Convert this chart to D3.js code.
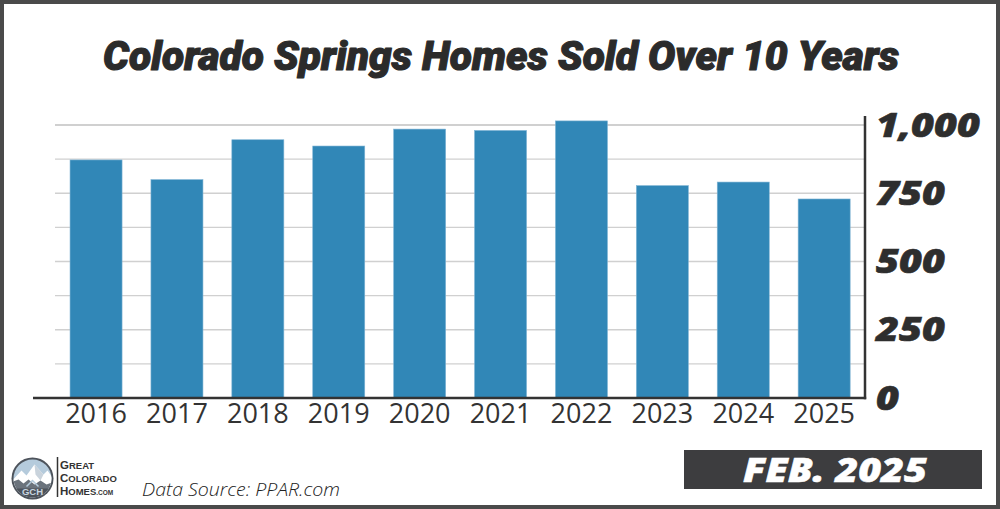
<!DOCTYPE html>
<html>
<head>
<meta charset="utf-8">
<script src="https://cdn.jsdelivr.net/npm/d3@7"></script>
<style>
  html, body { margin: 0; padding: 0; background: #fff; }
  svg { display: block; }
</style>
</head>
<body>
<svg id="chart" width="1000" height="509"></svg>
<script>
const years = ["2016","2017","2018","2019","2020","2021","2022","2023","2024","2025"];
const homesSold = [872, 800, 946, 923, 985, 980, 1015, 778, 791, 729];
const gridValues = [0, 125, 250, 375, 500, 625, 750, 875, 1000];
const tickValues = [0, 250, 500, 750, 1000];
const titleText = "Colorado Springs Homes Sold Over 10 Years";
const sourceText = "Data Source: PPAR.com";
const dateText = "FEB. 2025";

const svg = d3.select("#chart");
const W = 1000, H = 509;

// background + frame
svg.append("rect").attr("x", 0).attr("y", 0).attr("width", W).attr("height", H).attr("fill", "#4a4a4a");
svg.append("rect").attr("x", 4).attr("y", 4).attr("width", W - 8).attr("height", H - 8).attr("fill", "#ffffff");

// title
svg.append("text")
  .attr("x", 103).attr("y", 70)
  .attr("textLength", 796).attr("lengthAdjust", "spacingAndGlyphs")
  .style("font-family", "Roboto, 'Open Sans', sans-serif")
  .style("font-weight", 900).style("font-style", "italic")
  .style("font-size", "40px").attr("fill", "#2b2b2b")
  .attr("stroke", "#2b2b2b").attr("stroke-width", 1.1).attr("stroke-linejoin", "round")
  .text(titleText);

// scales
const x = d3.scaleBand().domain(years).range([57.9, 862.3]).paddingInner(0.357).paddingOuter(0.15);
const y = d3.scaleLinear().domain([0, 1000]).range([398, 125]);

// gridlines
svg.append("g").selectAll("line").data(gridValues.filter(v => v > 0)).join("line")
  .attr("x1", 55).attr("x2", 865)
  .attr("y1", d => y(d)).attr("y2", d => y(d))
  .attr("stroke", "#d0d0d0")
  .attr("stroke-width", d => d === 1000 ? 2.2 : 1.3);

// bars
svg.append("g").selectAll("rect").data(years).join("rect")
  .attr("x", d => x(d)).attr("width", x.bandwidth())
  .attr("y", (d, i) => y(homesSold[i]))
  .attr("height", (d, i) => y(0) - y(homesSold[i]))
  .attr("fill", "#3187b7")
  .attr("stroke", "#7fb4d4").attr("stroke-width", 0.6);

// y axis (right)
const yAxis = d3.axisRight(y).tickValues(tickValues).tickSize(0).tickFormat(d3.format(","));
const gy = svg.append("g").attr("transform", "translate(865,0)").call(yAxis);
gy.select(".domain").remove();
gy.selectAll("text")
  .attr("x", 0).attr("y", 0).attr("dy", null)
  .attr("transform", "translate(11,11) scale(1.2,1)")
  .style("font-family", "'Open Sans', sans-serif")
  .style("font-weight", 800).style("font-style", "italic")
  .style("font-size", "33px").attr("fill", "#2e2e2e")
  .attr("stroke", "#2e2e2e").attr("stroke-width", 0.6);

// axis lines
svg.append("line").attr("x1", 865).attr("x2", 865).attr("y1", 116).attr("y2", 399.2)
  .attr("stroke", "#333").attr("stroke-width", 2.5);
svg.append("line").attr("x1", 33).attr("x2", 866.2).attr("y1", 398).attr("y2", 398)
  .attr("stroke", "#333").attr("stroke-width", 2.5);

// x axis
const xAxis = d3.axisBottom(x).tickSize(0);
const gx = svg.append("g").attr("transform", "translate(0,398)").call(xAxis);
gx.select(".domain").remove();
gx.selectAll("text")
  .attr("y", 25).attr("dy", null)
  .style("font-family", "'Open Sans', sans-serif")
  .style("font-weight", 500)
  .style("font-size", "27px").attr("fill", "#333");

// date box
svg.append("rect").attr("x", 684).attr("y", 450).attr("width", 298).attr("height", 39).attr("fill", "#3d3d3f");
svg.append("text").attr("x", 743).attr("y", 482)
  .attr("textLength", 184).attr("lengthAdjust", "spacingAndGlyphs")
  .style("font-family", "'Open Sans', sans-serif")
  .style("font-weight", 800).style("font-style", "italic")
  .style("font-size", "33px").attr("fill", "#ffffff")
  .attr("stroke", "#ffffff").attr("stroke-width", 0.5)
  .text(dateText);

// data source
svg.append("text").attr("x", 142).attr("y", 496)
  .attr("textLength", 198).attr("lengthAdjust", "spacingAndGlyphs")
  .style("font-family", "'Open Sans', sans-serif")
  .style("font-weight", 300).style("font-style", "italic")
  .style("font-size", "18px").attr("fill", "#222")
  .text(sourceText);

// logo
const logo = svg.append("g");
const cx = 32.5, cy = 478.5, r = 21;
const defs = svg.append("defs");
defs.append("clipPath").attr("id", "logoClip").append("circle").attr("cx", cx).attr("cy", cy).attr("r", r - 2);
logo.append("circle").attr("cx", cx).attr("cy", cy).attr("r", r).attr("fill", "#4d535b");
const inner = logo.append("g").attr("clip-path", "url(#logoClip)");
inner.append("rect").attr("x", cx - r).attr("y", cy - r).attr("width", 2 * r).attr("height", 2 * r).attr("fill", "#b5cbdc");
inner.append("path").attr("d", `M${cx-22},${cy+4} L${cx-11},${cy-8} L${cx-6},${cy-3} L${cx+2},${cy-14} L${cx+11},${cy-4} L${cx+15},${cy-8} L${cx+22},${cy+2} L${cx+22},${cy+22} L${cx-22},${cy+22} Z`).attr("fill", "#ffffff");
inner.append("path").attr("d", `M${cx+2},${cy-14} L${cx+11},${cy-4} L${cx+8},${cy+2} L${cx+3},${cy-4} Z`).attr("fill", "#c9d3dc");
inner.append("path").attr("d", `M${cx-22},${cy+4} L${cx-14},${cy+1} L${cx-9},${cy+5} L${cx-4},${cy+1} L${cx+2},${cy+6} L${cx+8},${cy+2} L${cx+14},${cy+6} L${cx+22},${cy+3} L${cx+22},${cy+22} L${cx-22},${cy+22} Z`).attr("fill", "#6b737c");
inner.append("path").attr("d", `M${cx-22},${cy+10} L${cx+22},${cy+10} L${cx+22},${cy+22} L${cx-22},${cy+22} Z`).attr("fill", "#4d535b");
inner.append("path").attr("d", `M${cx-6},${cy+8} L${cx},${cy+2} L${cx+6},${cy+8}`).attr("fill", "none").attr("stroke", "#b5cbdc").attr("stroke-width", 1.5);
logo.append("text").attr("x", cx).attr("y", cy + 16).attr("text-anchor", "middle")
  .style("font-family", "'Liberation Sans', Arial, sans-serif").style("font-weight", 700)
  .style("font-size", "9.5px").attr("fill", "#c7d5e1").text("GCH");
logo.append("line").attr("x1", 57.5).attr("x2", 57.5).attr("y1", 457).attr("y2", 497)
  .attr("stroke", "#333").attr("stroke-width", 1.5);
const logoLines = [["G", "REAT", ""], ["C", "OLORADO", ""], ["H", "OMES", ".com"]];
logoLines.forEach((ln, i) => {
  const t = logo.append("text").attr("x", 60).attr("y", 469 + i * 12.8)
    .style("font-family", "'Liberation Sans', Arial, sans-serif").style("font-weight", 700)
    .attr("fill", "#333");
  t.append("tspan").style("font-size", "11.5px").text(ln[0]);
  t.append("tspan").style("font-size", "9.5px").text(ln[1]);
  if (ln[2]) t.append("tspan").style("font-size", "6.5px").text(ln[2].toUpperCase());
});
</script>
</body>
</html>
